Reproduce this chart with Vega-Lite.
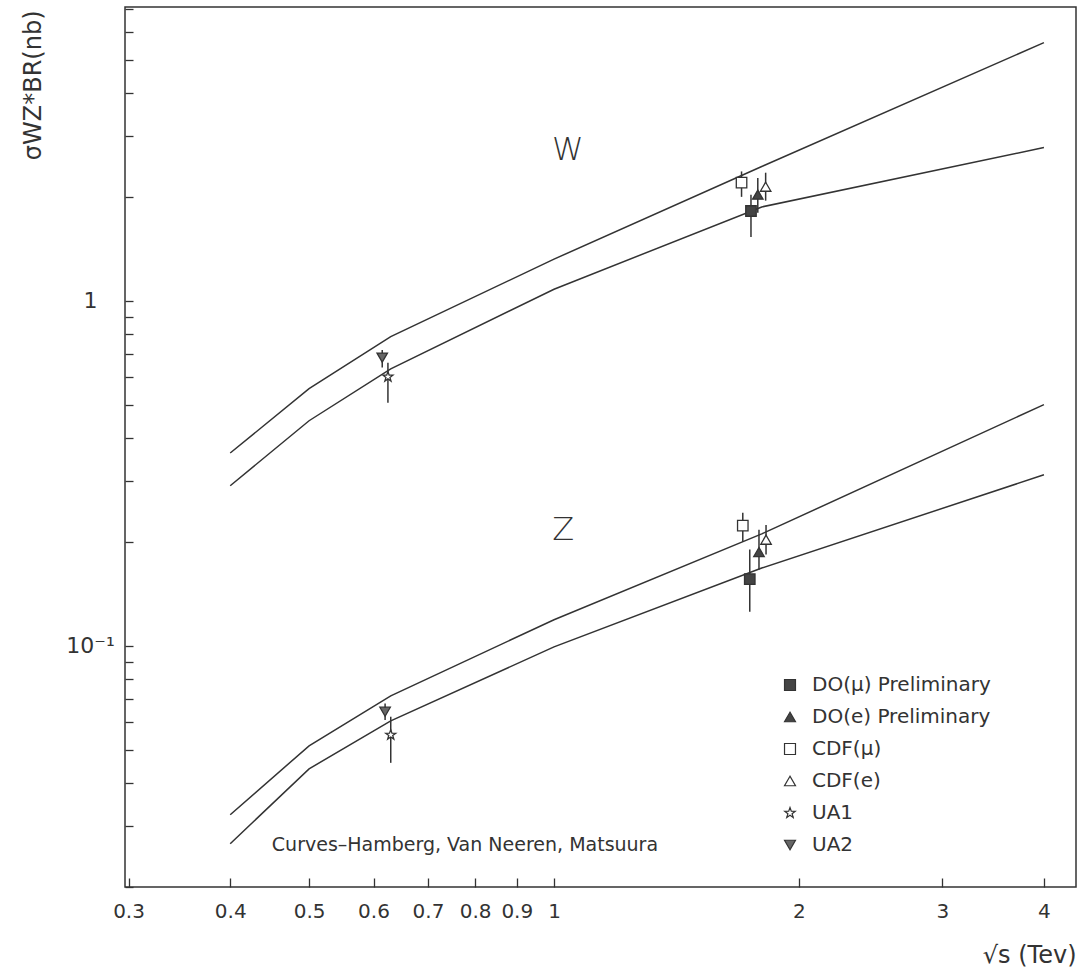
{
  "$schema": "https://vega.github.io/schema/vega-lite/v6.json",
  "width": 951,
  "height": 880,
  "autosize": {"type": "none"},
  "padding": {"left": 125, "top": 7, "right": 11, "bottom": 85},
  "background": "white",
  "config": {
    "view": {"stroke": "#333", "strokeWidth": 1.5},
    "font": "DejaVu Sans",
    "axis": {"domain": false, "grid": false, "labelFont": "DejaVu Sans", "labelColor": "#333", "tickColor": "#333", "tickWidth": 1.3, "titleColor": "#333", "titleFont": "DejaVu Sans", "titleFontWeight": "normal"}
  },
  "datasets": {
    "curves": [
      {"curve": "W upper", "x": 0.4, "y": 0.362},
      {"curve": "W upper", "x": 0.5, "y": 0.556},
      {"curve": "W upper", "x": 0.63, "y": 0.787},
      {"curve": "W upper", "x": 1.0, "y": 1.32},
      {"curve": "W upper", "x": 1.8, "y": 2.45},
      {"curve": "W upper", "x": 4.0, "y": 5.6},
      {"curve": "W lower", "x": 0.4, "y": 0.291},
      {"curve": "W lower", "x": 0.5, "y": 0.449},
      {"curve": "W lower", "x": 0.63, "y": 0.635},
      {"curve": "W lower", "x": 1.0, "y": 1.08},
      {"curve": "W lower", "x": 1.8, "y": 1.87},
      {"curve": "W lower", "x": 4.0, "y": 2.78},
      {"curve": "Z upper", "x": 0.4, "y": 0.0324},
      {"curve": "Z upper", "x": 0.5, "y": 0.0513},
      {"curve": "Z upper", "x": 0.63, "y": 0.0716},
      {"curve": "Z upper", "x": 1.0, "y": 0.119},
      {"curve": "Z upper", "x": 1.8, "y": 0.211},
      {"curve": "Z upper", "x": 4.0, "y": 0.5},
      {"curve": "Z lower", "x": 0.4, "y": 0.0267},
      {"curve": "Z lower", "x": 0.5, "y": 0.044},
      {"curve": "Z lower", "x": 0.63, "y": 0.0606},
      {"curve": "Z lower", "x": 1.0, "y": 0.0993},
      {"curve": "Z lower", "x": 1.8, "y": 0.168},
      {"curve": "Z lower", "x": 4.0, "y": 0.313}
    ],
    "points": [
      {"boson": "W", "exp": "CDF(μ)", "x": 1.70, "y": 2.20, "lo": 2.00, "hi": 2.37},
      {"boson": "W", "exp": "DO(μ) Preliminary", "x": 1.746, "y": 1.82, "lo": 1.53, "hi": 2.03},
      {"boson": "W", "exp": "DO(e) Preliminary", "x": 1.78, "y": 2.03, "lo": 1.80, "hi": 2.27},
      {"boson": "W", "exp": "CDF(e)", "x": 1.82, "y": 2.14, "lo": 1.95, "hi": 2.35},
      {"boson": "W", "exp": "UA2", "x": 0.615, "y": 0.684, "lo": 0.64, "hi": 0.72},
      {"boson": "W", "exp": "UA1", "x": 0.625, "y": 0.602, "lo": 0.506, "hi": 0.661},
      {"boson": "Z", "exp": "CDF(μ)", "x": 1.706, "y": 0.223, "lo": 0.200, "hi": 0.243},
      {"boson": "Z", "exp": "CDF(e)", "x": 1.822, "y": 0.203, "lo": 0.184, "hi": 0.224},
      {"boson": "Z", "exp": "DO(e) Preliminary", "x": 1.786, "y": 0.187, "lo": 0.166, "hi": 0.217},
      {"boson": "Z", "exp": "DO(μ) Preliminary", "x": 1.74, "y": 0.156, "lo": 0.1255, "hi": 0.19},
      {"boson": "Z", "exp": "UA2", "x": 0.62, "y": 0.0644, "lo": 0.061, "hi": 0.068},
      {"boson": "Z", "exp": "UA1", "x": 0.63, "y": 0.0552, "lo": 0.0458, "hi": 0.0623}
    ],
    "bosonLabels": [
      {"x": 1.04, "y": 2.74, "label": "W"},
      {"x": 1.026, "y": 0.217, "label": "Z"}
    ],
    "credit": [
      {"x": 0.45, "y": 0.0265, "label": "Curves–Hamberg, Van Neeren, Matsuura"}
    ]
  },
  "encoding": {
    "x": {
      "field": "x", "type": "quantitative",
      "scale": {"type": "log", "domain": [0.297, 4.38], "nice": false},
      "axis": {
        "title": "√s (Tev)", "titleFontSize": 24, "titleX": 951, "titleY": 68, "titleAlign": "right", "titleBaseline": "middle", "titleAngle": 0,
        "values": [0.3, 0.4, 0.5, 0.6, 0.7, 0.8, 0.9, 1, 2, 3, 4],
        "labelExpr": "format(datum.value, '~g')",
        "labelFontSize": 20, "labelFlush": false, "labelOverlap": false, "labelBaseline": "top",
        "tickSize": -9,
        "labelPadding": 23
      }
    },
    "y": {
      "field": "y", "type": "quantitative",
      "scale": {"type": "log", "domain": [0.02, 7.1], "nice": false},
      "axis": {
        "title": "σWZ*BR(nb)", "titleFontSize": 24, "titleX": -92, "titleY": 3, "titleAlign": "right", "titleBaseline": "middle", "titleAngle": -90,
        "values": [0.02, 0.03, 0.04, 0.05, 0.06, 0.07, 0.08, 0.09, 0.1, 0.2, 0.3, 0.4, 0.5, 0.6, 0.7, 0.8, 0.9, 1, 2, 3, 4, 5, 6, 7],
        "labelExpr": "datum.value == 1 ? '1' : (datum.value == 0.1 ? '10⁻¹' : '')",
        "labelFontSize": 22, "labelAlign": "center", "labelBaseline": "middle", "labelOverlap": false, "labelFlush": false,
        "tickSize": -8,
        "labelPadding": 43
      }
    }
  },
  "layer": [
    {
      "data": {"name": "curves"},
      "mark": {"type": "line", "color": "#333", "strokeWidth": 1.5, "clip": true},
      "encoding": {"detail": {"field": "curve"}}
    },
    {
      "data": {"name": "points"},
      "mark": {"type": "rule", "color": "#333", "strokeWidth": 1.5},
      "encoding": {"y": {"field": "lo", "type": "quantitative"}, "y2": {"field": "hi"}}
    },
    {
      "data": {"name": "points"},
      "mark": {"type": "point", "filled": true, "strokeWidth": 1.3, "opacity": 1, "size": 110},
      "encoding": {
        "shape": {
          "field": "exp", "type": "nominal",
          "scale": {
            "domain": ["DO(μ) Preliminary", "DO(e) Preliminary", "CDF(μ)", "CDF(e)", "UA1", "UA2"],
            "range": ["square", "triangle-up", "square", "triangle-up", "M0,-1L0.235,-0.324L0.951,-0.309L0.38,0.124L0.588,0.809L0,0.4L-0.588,0.809L-0.38,0.124L-0.951,-0.309L-0.235,-0.324Z", "triangle-down"]
          },
          "legend": {"title": null, "orient": "none", "legendX": 655, "legendY": 668, "labelFontSize": 20, "labelFont": "DejaVu Sans", "labelColor": "#333", "labelLimit": 400, "symbolSize": 120, "rowPadding": 12, "labelOffset": 12, "symbolStrokeWidth": 1.2}
        },
        "fill": {
          "field": "exp", "type": "nominal",
          "scale": {
            "domain": ["DO(μ) Preliminary", "DO(e) Preliminary", "CDF(μ)", "CDF(e)", "UA1", "UA2"],
            "range": ["#444", "#444", "white", "white", "white", "#666"]
          },
          "legend": {"title": null, "orient": "none", "legendX": 655, "legendY": 668, "labelFontSize": 20, "labelFont": "DejaVu Sans", "labelColor": "#333", "labelLimit": 400, "symbolSize": 120, "rowPadding": 12, "labelOffset": 12, "symbolStrokeWidth": 1.2}
        },
        "stroke": {
          "field": "exp", "type": "nominal",
          "scale": {
            "domain": ["DO(μ) Preliminary", "DO(e) Preliminary", "CDF(μ)", "CDF(e)", "UA1", "UA2"],
            "range": ["#333", "#333", "#333", "#333", "#333", "#333"]
          },
          "legend": {"title": null, "orient": "none", "legendX": 655, "legendY": 668, "labelFontSize": 20, "labelFont": "DejaVu Sans", "labelColor": "#333", "labelLimit": 400, "symbolSize": 120, "rowPadding": 12, "labelOffset": 12, "symbolStrokeWidth": 1.2}
        }
      }
    },
    {
      "data": {"name": "bosonLabels"},
      "mark": {"type": "text", "fontSize": 32, "fontWeight": 300, "color": "#333", "align": "center", "baseline": "middle"},
      "encoding": {"text": {"field": "label"}}
    },
    {
      "data": {"name": "credit"},
      "mark": {"type": "text", "fontSize": 19, "color": "#333", "align": "left", "baseline": "middle"},
      "encoding": {"text": {"field": "label"}}
    }
  ]
}
